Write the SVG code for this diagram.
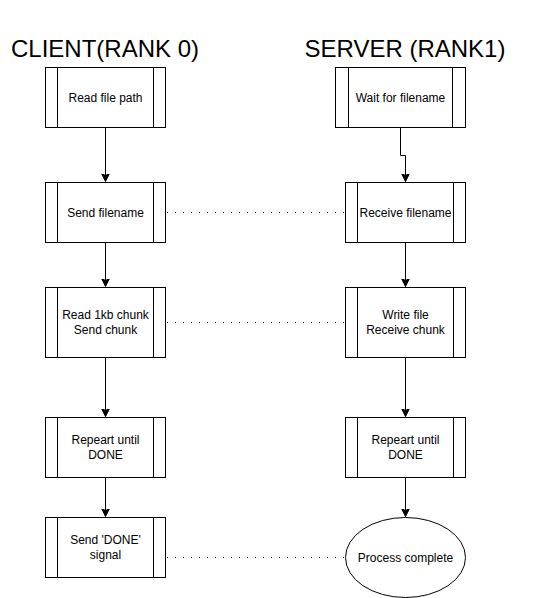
<svg xmlns="http://www.w3.org/2000/svg" width="534" height="598" viewBox="0 0 534 598">
<defs>
<marker id="arr" markerUnits="userSpaceOnUse" markerWidth="10" markerHeight="10" refX="8" refY="4" orient="auto">
<path d="M0,0 L8,4 L0,8 L2,4 Z" fill="#000" stroke="#000" stroke-width="1"/>
</marker>
<style>
.box{fill:#fff;stroke:#000;stroke-width:1}
.ln{fill:none;stroke:#000;stroke-width:1}
.t{font-family:"Liberation Sans",Arial,sans-serif;font-size:12px;fill:#000;text-anchor:middle}
.h{font-family:"Liberation Sans",Arial,sans-serif;font-size:24px;fill:#000;text-anchor:middle}
.dot{fill:none;stroke:#000;stroke-width:1;stroke-dasharray:1 7}
.arrow{fill:none;stroke:#000;stroke-width:1;marker-end:url(#arr)}
</style>
</defs>
<rect width="534" height="598" fill="#fff"/>
<g id="titles">
<text class="h" x="105" y="57">CLIENT(RANK 0)</text>
<text class="h" x="405" y="57">SERVER (RANK1)</text>
</g>
<g id="connectors">
<path class="arrow" d="M105.5,127.5 V181.5"/>
<path class="arrow" d="M105.5,242.5 V286.5"/>
<path class="arrow" d="M105.5,357.5 V416.5"/>
<path class="arrow" d="M105.5,477.5 V516.5"/>
<path class="arrow" d="M400.5,127.5 V155.5 H405.5 V181.5"/>
<path class="arrow" d="M405.5,242.5 V286.5"/>
<path class="arrow" d="M405.5,357.5 V416.5"/>
<path class="arrow" d="M405.5,477.5 V516.5"/>
<path class="dot" d="M167,212.5 H345"/>
<path class="dot" d="M167,322.5 H345"/>
<path class="dot" d="M167,557.5 H345"/>
</g>
<g id="c1">
<rect class="box" x="45.5" y="67.5" width="120" height="60"/>
<path class="ln" d="M57.5,67.5 V127.5 M153.5,67.5 V127.5"/>
<text class="t" x="105.5" y="101.5">Read file path</text>
</g>
<g id="c2">
<rect class="box" x="45.5" y="182.5" width="120" height="60"/>
<path class="ln" d="M57.5,182.5 V242.5 M153.5,182.5 V242.5"/>
<text class="t" x="105.5" y="216.5">Send filename</text>
</g>
<g id="c3">
<rect class="box" x="45.5" y="287.5" width="120" height="70"/>
<path class="ln" d="M57.5,287.5 V357.5 M153.5,287.5 V357.5"/>
<text class="t" x="105.5" y="319">Read 1kb chunk</text>
<text class="t" x="105.5" y="333.5">Send chunk</text>
</g>
<g id="c4">
<rect class="box" x="45.5" y="417.5" width="120" height="60"/>
<path class="ln" d="M57.5,417.5 V477.5 M153.5,417.5 V477.5"/>
<text class="t" x="105.5" y="444">Repeart until</text>
<text class="t" x="105.5" y="458.5">DONE</text>
</g>
<g id="c5">
<rect class="box" x="45.5" y="517.5" width="120" height="60"/>
<path class="ln" d="M57.5,517.5 V577.5 M153.5,517.5 V577.5"/>
<text class="t" x="105.5" y="544">Send 'DONE'</text>
<text class="t" x="105.5" y="558.5">signal</text>
</g>
<g id="s1">
<rect class="box" x="335.5" y="67.5" width="130" height="60"/>
<path class="ln" d="M348.5,67.5 V127.5 M452.5,67.5 V127.5"/>
<text class="t" x="400.5" y="101.5">Wait for filename</text>
</g>
<g id="s2">
<rect class="box" x="345.5" y="182.5" width="120" height="60"/>
<path class="ln" d="M357.5,182.5 V242.5 M453.5,182.5 V242.5"/>
<text class="t" x="405.5" y="216.5">Receive filename</text>
</g>
<g id="s3">
<rect class="box" x="345.5" y="287.5" width="120" height="70"/>
<path class="ln" d="M357.5,287.5 V357.5 M453.5,287.5 V357.5"/>
<text class="t" x="405.5" y="319">Write file</text>
<text class="t" x="405.5" y="333.5">Receive chunk</text>
</g>
<g id="s4">
<rect class="box" x="345.5" y="417.5" width="120" height="60"/>
<path class="ln" d="M357.5,417.5 V477.5 M453.5,417.5 V477.5"/>
<text class="t" x="405.5" y="444">Repeart until</text>
<text class="t" x="405.5" y="458.5">DONE</text>
</g>
<g id="s5">
<ellipse class="box" cx="405.5" cy="557.5" rx="60" ry="40"/>
<text class="t" x="405.5" y="561.5">Process complete</text>
</g>
</svg>
